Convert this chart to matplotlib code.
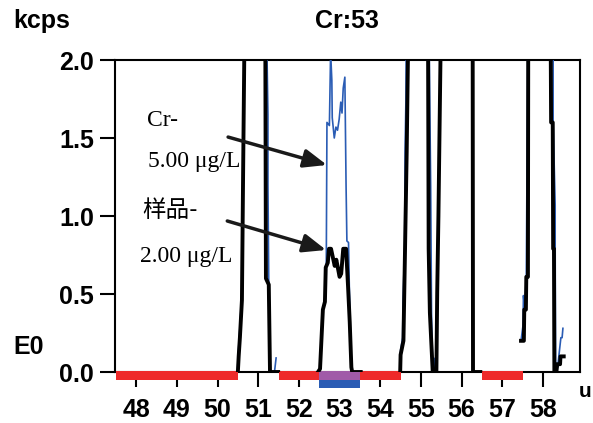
import matplotlib
matplotlib.use("Agg")
import matplotlib.pyplot as plt
import numpy as np
from matplotlib.patches import Rectangle
from matplotlib.ticker import FormatStrFormatter

nan = np.nan

# Muestra (trazo negro), kcps; los picos fuera de escala se guardan como 2.6
sample_mass = [50.50, 50.52, 50.55, 50.60, 50.63, 50.68, 51.17, 51.19, 51.26, 51.29, 51.49, nan,
               52.47, 52.52, 52.59, 52.64, 52.66, 52.71, 52.74, 52.79, 52.88, 52.92, 53.00, 53.04,
               53.09, 53.16, 53.21, 53.25, 53.29, 53.31, 53.52, nan,
               54.49, 54.50, 54.57, 54.61, 54.65, 54.71, 55.17, 55.19, 55.22, 55.29, 55.38, 55.40,
               55.43, 55.51, 56.27, 56.28, 56.46, nan,
               57.46, 57.53, 57.54, 57.58, 57.59, 57.63, 57.64, 58.18, 58.20, 58.24, 58.25, 58.27,
               58.28, 58.33, 58.35, 58.42, 58.43, 58.51]
sample_kcps = [0.00, 0.10, 0.22, 0.46, 1.30, 2.60, 2.60, 0.60, 0.56, 0.00, 0.00, nan,
               0.00, 0.02, 0.40, 0.45, 0.67, 0.70, 0.79, 0.79, 0.68, 0.72, 0.61, 0.63,
               0.79, 0.79, 0.54, 0.32, 0.03, 0.00, 0.00, nan,
               0.00, 0.11, 0.20, 0.80, 1.41, 2.60, 2.60, 0.79, 0.38, 0.00, 0.00, 0.51,
               1.00, 2.60, 2.60, 0.00, 0.00, nan,
               0.20, 0.20, 0.40, 0.40, 0.61, 0.61, 2.60, 2.60, 1.60, 1.60, 0.79, 0.79,
               0.00, 0.00, 0.05, 0.05, 0.10, 0.10]

# Patrón Cr 5.00 µg/L (trazo azul)
std_mass = [50.49, 50.51, 50.53, 50.60, 50.63, 50.68, 51.18, 51.24, 51.24, 51.26, 51.29, 51.40, 51.44, nan,
            52.47, 52.52, 52.59, 52.64, 52.67, 52.69, 52.75, 52.78, 52.81, 52.82, 52.87, 52.91,
            52.95, 52.99, 53.03, 53.06, 53.09, 53.13, 53.16, 53.18, 53.22, 53.24, 53.26, 53.29,
            53.31, 53.52, nan,
            54.49, 54.50, 54.55, 54.56, 54.60, 54.61, 54.63, 54.65, 55.18, 55.24, 55.25, 55.26,
            55.29, 55.34, 55.35, 55.37, 55.40, 55.43, 55.51, 56.27, 56.28, 56.46, nan,
            57.46, 57.51, 57.52, 57.55, 57.59, 57.64, 58.25, 58.25, 58.30, 58.30, 58.31, 58.36,
            58.44, 58.47, 58.49]
std_kcps = [0.00, 0.12, 0.20, 0.50, 1.40, 2.60, 2.60, 1.65, 1.20, 0.55, 0.00, 0.00, 0.09, nan,
            0.00, 0.02, 0.40, 0.45, 0.51, 1.60, 1.58, 2.05, 1.87, 1.63, 1.50, 1.57,
            1.55, 1.62, 1.73, 1.66, 1.82, 1.89, 1.19, 0.84, 0.83, 0.54, 0.32, 0.03,
            0.00, 0.00, nan,
            0.00, 0.14, 0.22, 0.45, 0.80, 1.41, 1.73, 2.60, 2.60, 1.19, 0.79, 0.38,
            0.00, 0.00, 0.09, 0.00, 0.51, 1.00, 2.60, 2.60, 0.00, 0.00, nan,
            0.20, 0.30, 0.49, 0.40, 0.61, 2.60, 2.60, 1.60, 1.07, 0.79, 0.00, 0.03,
            0.22, 0.22, 0.28]

# Bandas bajo el eje (rangos de masa)
skip_ranges = [(47.5, 50.5), (51.5, 52.5), (53.5, 54.5), (56.5, 57.5)]
peak_range = (52.5, 53.5)

x_ticks = [48, 49, 50, 51, 52, 53, 54, 55, 56, 57, 58]
y_ticks = [0.0, 0.5, 1.0, 1.5, 2.0]

W, H = 593, 423
fig = plt.figure(figsize=(W / 100, H / 100), dpi=100)
ax = fig.add_axes([115 / W, 1 - 372 / H, 465 / W, 312 / H])

ax.plot(std_mass, std_kcps, color='#2a5cb4', lw=1.2, zorder=3)
ax.plot(sample_mass, sample_kcps, color='black', lw=2.8, zorder=4)

ax.set_xlim(47.48, 58.91)
ax.set_ylim(0, 2)
ax.set_xticks(x_ticks)
ax.set_yticks(y_ticks)
ax.yaxis.set_major_formatter(FormatStrFormatter('%.1f'))
for s in ax.spines.values():
    s.set_linewidth(1.5)
ax.tick_params(axis='both', direction='out', length=11, width=1.5)
ax.tick_params(axis='y', pad=4)
ax.tick_params(axis='x', pad=8)
for lab in ax.get_xticklabels() + ax.get_yticklabels():
    lab.set_fontfamily('Liberation Sans')
    lab.set_fontweight('bold')
    lab.set_fontsize(18)

# bandas de color bajo el eje
trans = ax.get_xaxis_transform()
h = 8 / 312
for a, b in skip_ranges:
    ax.add_patch(Rectangle((a, -h), b - a, h + 0.003, transform=trans,
                           color='#ee2a2a', lw=0, clip_on=False, zorder=2.6))
ax.add_patch(Rectangle((peak_range[0], -h), peak_range[1] - peak_range[0], h + 0.003,
                       transform=trans, color='#a05aa8', lw=0, clip_on=False, zorder=2.6))
ax.add_patch(Rectangle((peak_range[0], -2 * h), peak_range[1] - peak_range[0], h,
                       transform=trans, color='#2a5cb4', lw=0, clip_on=False, zorder=2.6))

# textos
bold = dict(family='Liberation Sans', weight='bold', size=18)
fig.text(13 / W, 1 - 28 / H, 'kcps', va='baseline', ha='left', **bold)
fig.text(347 / W, 1 - 28 / H, 'Cr:53', va='baseline', ha='center', **bold)
fig.text(13 / W, 1 - 347 / H, 'E0', va='center', ha='left', **bold)
fig.text(591 / W, 1 - 397 / H, 'u', va='baseline', ha='right',
         family='Liberation Sans', weight='bold', size=15)

serif = dict(family='Liberation Serif', size=17)
fig.text(147 / W, 1 - 126 / H, 'Cr-', va='baseline', **serif)
fig.text(148 / W, 1 - 167 / H, '5.00 μg/L', va='baseline', **serif)
fig.text(142 / W, 1 - 217 / H, '样品-', va='baseline', family=['Noto Sans CJK SC', 'DejaVu Sans'], size=17)
fig.text(140 / W, 1 - 262 / H, '2.00 μg/L', va='baseline', **serif)

# flechas
arrow = dict(arrowstyle='-|>,head_length=0.7,head_width=0.28', color='#1a1a1a',
             lw=2.5, shrinkA=0, shrinkB=0, mutation_scale=20)
ax.annotate('', xy=(52.69, 1.327), xytext=(50.26, 1.506), arrowprops=arrow, zorder=6)
ax.annotate('', xy=(52.67, 0.782), xytext=(50.24, 0.968), arrowprops=arrow, zorder=6)

fig.savefig('out.png', dpi=100)
